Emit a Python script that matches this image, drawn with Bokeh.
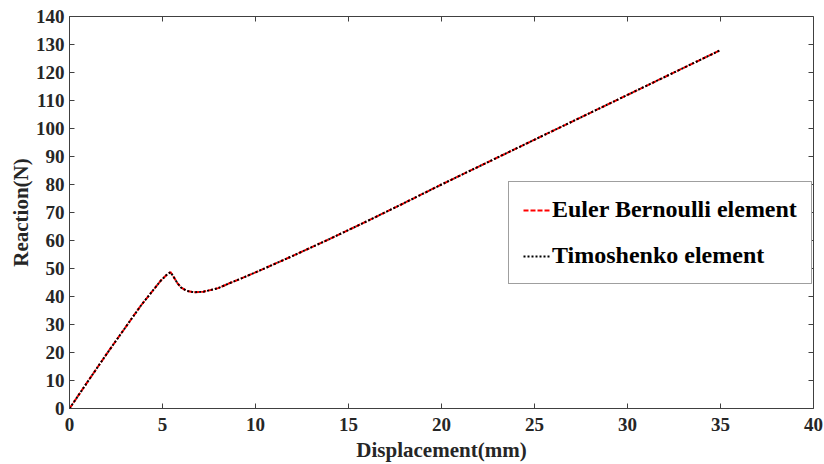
import math
from bokeh.plotting import figure
from bokeh.models import Range1d, FixedTicker, Legend, LegendItem
from bokeh.embed import file_html
from bokeh.resources import INLINE

# Displacement (mm) and reaction (N)
disp_eb = [0, 1, 2, 3, 3.5, 3.82, 4.2, 4.6, 4.9, 5.2, 5.43, 5.6, 5.8, 6.0, 6.3, 6.7,
           7.2, 8.0, 8.66, 9, 10, 12, 14, 16, 18, 20, 22, 24, 26, 28, 30, 32, 34, 35]
react_eb = [0, 9.8, 19.5, 28.9, 33.6, 36.6, 39.8, 43.1, 45.6, 47.6, 48.7, 47.0, 44.8,
            43.2, 42.0, 41.5, 41.7, 43.0, 44.9, 45.8, 48.6, 54.5, 60.6, 66.9, 73.4,
            80.0, 86.4, 92.8, 99.2, 105.6, 112.0, 118.4, 124.8, 128.0]
disp_ti = [0, 1, 2, 3, 3.5, 3.82, 4.2, 4.6, 4.9, 5.2, 5.43, 5.6, 5.8, 6.0, 6.3, 6.7,
           7.2, 8.0, 8.66, 9, 10, 12, 14, 16, 18, 20, 22, 24, 26, 28, 30, 32, 34, 35]
react_ti = [0, 9.8, 19.5, 28.9, 33.6, 36.6, 39.8, 43.1, 45.6, 47.6, 48.7, 47.0, 44.8,
            43.2, 42.0, 41.5, 41.7, 43.0, 44.9, 45.8, 48.6, 54.5, 60.6, 66.9, 73.4,
            80.0, 86.4, 92.8, 99.2, 105.6, 112.0, 118.4, 124.8, 128.0]
x_ticks = [0, 5, 10, 15, 20, 25, 30, 35, 40]
y_ticks = [0, 10, 20, 30, 40, 50, 60, 70, 80, 90, 100, 110, 120, 130, 140]
x_max, y_max = 40, 140
series_names = ["Euler Bernoulli element", "Timoshenko element"]
x_title = "Displacement(mm)"
y_title = "Reaction(N)"

FONT = "Liberation Serif"
AX = "#404040"
TXT = "#262626"

p = figure(width=824, height=464, output_backend="svg", toolbar_location=None,
           x_range=Range1d(0, x_max), y_range=Range1d(0, y_max),
           min_border_left=69, min_border_right=11, min_border_top=16, min_border_bottom=56)
p.background_fill_color = "white"
p.border_fill_color = "white"
p.outline_line_color = AX
p.outline_line_width = 1
p.grid.visible = False

p.xaxis.axis_label = x_title
p.yaxis.axis_label = y_title
p.xaxis.ticker = FixedTicker(ticks=x_ticks)
p.yaxis.ticker = FixedTicker(ticks=y_ticks)
for ax in (p.xaxis[0], p.yaxis[0]):
    ax.major_tick_in = 5
    ax.major_tick_out = 0
    ax.minor_tick_line_color = None
    ax.axis_line_color = AX
    ax.major_tick_line_color = AX
    ax.major_label_text_font = FONT
    ax.major_label_text_font_style = "bold"
    ax.major_label_text_font_size = "19px"
    ax.major_label_text_color = TXT
    ax.axis_label_text_font = FONT
    ax.axis_label_text_font_style = "bold"
    ax.axis_label_text_font_size = "21px"
    ax.axis_label_text_color = TXT
p.xaxis.major_label_standoff = 9
p.xaxis.axis_label_standoff = 4
p.yaxis.major_label_standoff = 5
p.yaxis.axis_label_standoff = 0

# ticks on the top and right edges of the box (clipped to the frame -> inward half)
p.scatter(x_ticks, [y_max] * len(x_ticks), marker="dash", angle=math.pi / 2, size=10,
          line_color=AX, line_width=1)
p.scatter([x_max] * len(y_ticks), y_ticks, marker="dash", size=10,
          line_color=AX, line_width=1)

r1 = p.line(disp_eb, react_eb, line_color="red", line_width=2, line_dash="5 2")
r2 = p.line(disp_ti, react_ti, line_color="black", line_width=2, line_dash="2 2")

legend = Legend(items=[LegendItem(label=series_names[0], renderers=[r1]),
                       LegendItem(label=series_names[1], renderers=[r2])],
                location=(439, 124))
legend.glyph_width = 27
legend.glyph_height = 20
legend.label_height = 20
legend.label_width = 245
legend.label_standoff = 2
legend.padding = 14
legend.spacing = 19
legend.margin = 0
legend.label_text_font = FONT
legend.label_text_font_style = "bold"
legend.label_text_font_size = "24px"
legend.label_text_color = "black"
legend.border_line_color = AX
legend.border_line_width = 1
legend.background_fill_alpha = 1
p.add_layout(legend)

open("out.html", "w").write(file_html(p, INLINE))
